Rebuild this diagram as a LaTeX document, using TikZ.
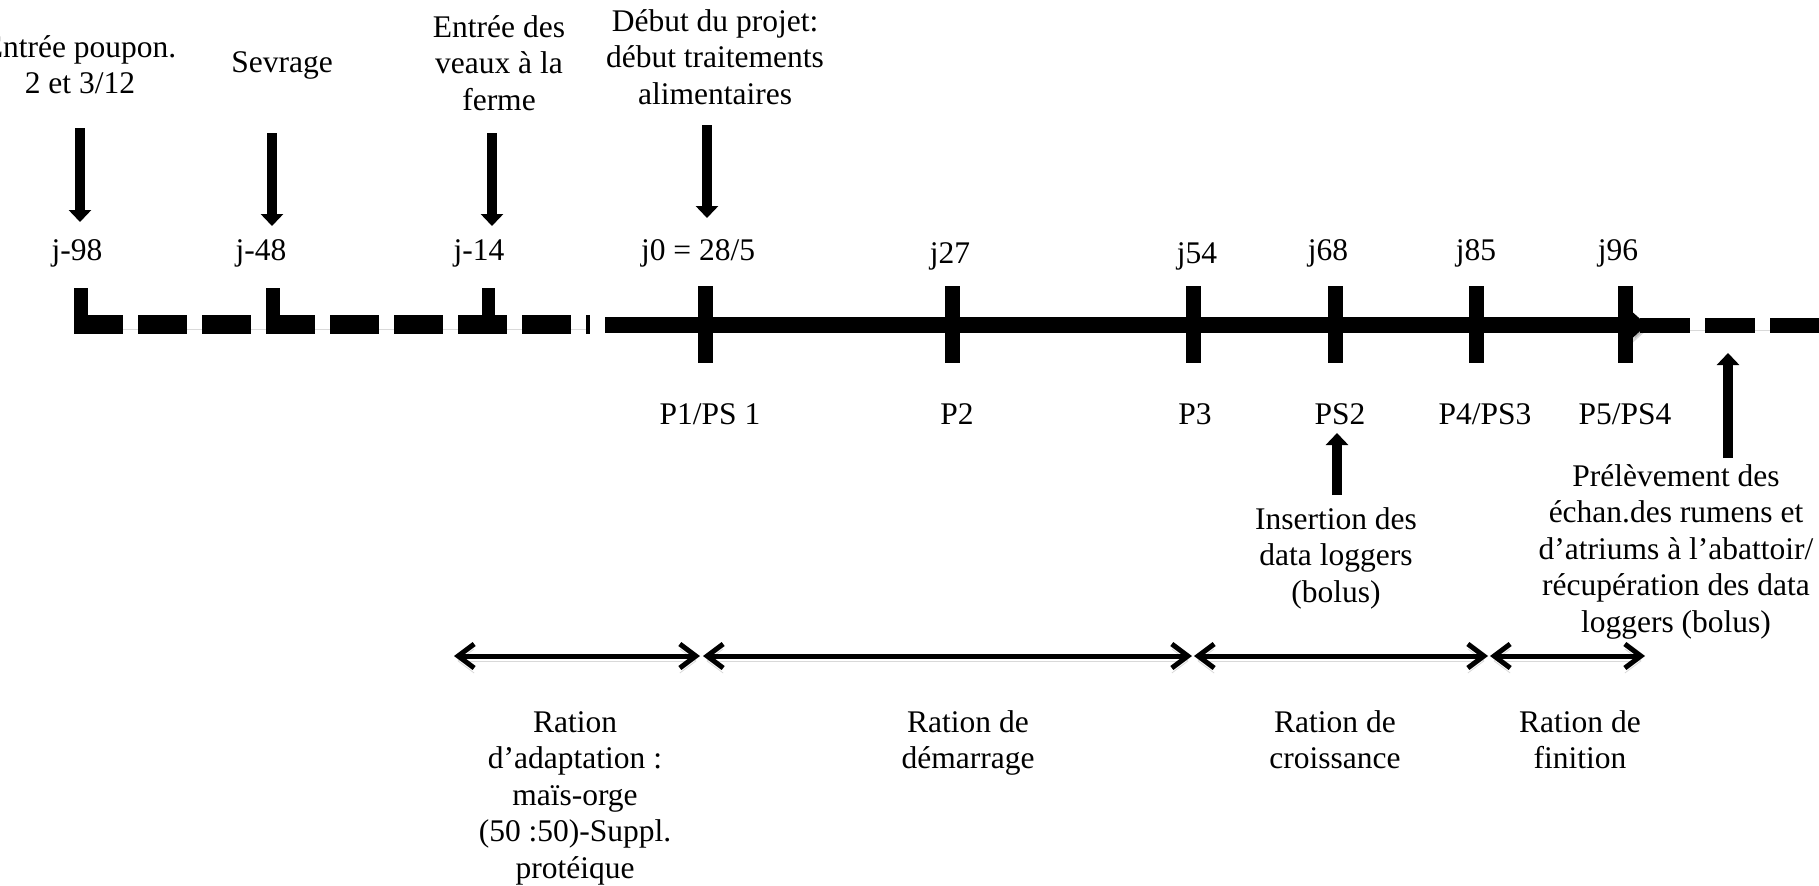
\documentclass[tikz,border=0pt]{standalone}
\usepackage{fontspec}
\setmainfont{Liberation Serif}
\usetikzlibrary{arrows.meta}
\begin{document}
\begin{tikzpicture}[x=0.5pt,y=-0.5pt,
  lbl/.style={inner sep=0pt, align=center, font=\fontsize{15.75pt}{18.25pt}\selectfont, anchor=base},
  evarrow/.style={line width=5pt, -{Triangle[length=6pt,width=11pt]}},
  axisline/.style={line width=8pt},
  dashax/.style={line width=9.5pt, dash pattern=on 24.5pt off 7.5pt},
  dashright/.style={line width=7.5pt, dash pattern=on 25pt off 7.5pt},
  spanarrow/.style={line width=2.5pt, {Straight Barb[length=8pt,width=12pt]}-{Straight Barb[length=8pt,width=12pt]}},
  shadowed/.style={preaction={draw, black, opacity=0.15, transform canvas={yshift=-2.5pt}}}
]
\useasboundingbox (0,0) rectangle (1819,885);
\clip (0,0) rectangle (1819,885);

% top labels (anchor base = last line baseline)
\node[lbl] (tpoupon) at (80,93.5) {Entrée poupon.\\2 et 3/12};
\node[lbl] (tsevrage) at (282,72) {Sevrage};
\node[lbl] (tentree) at (499,110) {Entrée des\\veaux à la\\ferme};
\node[lbl] (tdebut) at (715,104) {Début du projet:\\début traitements\\alimentaires};

% down arrows
\coordinate (a1s) at (80,128);  \coordinate (a1e) at (80,222);
\coordinate (a2s) at (272,133); \coordinate (a2e) at (272,226);
\coordinate (a3s) at (492,133); \coordinate (a3e) at (492,226);
\coordinate (a4s) at (707,125); \coordinate (a4e) at (707,218);
\draw[evarrow] (a1s) -- (a1e);
\draw[evarrow] (a2s) -- (a2e);
\draw[evarrow] (a3s) -- (a3e);
\draw[evarrow] (a4s) -- (a4e);

% day labels
\node[lbl] (j98) at (77,260) {j-98};
\node[lbl] (j48) at (261,260) {j-48};
\node[lbl] (j14) at (479,260) {j-14};
\node[lbl] (j0) at (698,260) {j0 = 28/5};
\node[lbl] (j27) at (950,263) {j27};
\node[lbl] (j54) at (1197,263) {j54};
\node[lbl] (j68) at (1328,260) {j68};
\node[lbl] (j85) at (1476,260) {j85};
\node[lbl] (j96) at (1618,260) {j96};

% timeline
\coordinate (dl0) at (74,324); \coordinate (dl1) at (590,324);
\draw[dashax, shadowed] (dl0) -- (dl1);
\fill (74,288) rectangle (88,333);
\fill (266,288) rectangle (280,333);
\fill (482,288) rectangle (495,333);

\coordinate (ax0) at (605,325); \coordinate (ax1) at (1647,325);
\coordinate (dr0) at (1640,325); \coordinate (dr1) at (1830,325);
\draw[dashright, shadowed] (dr0) -- (dr1);
\draw[axisline, shadowed, -{Triangle[length=7pt,width=12pt]}] (ax0) -- (ax1);
\foreach \x in {705,952,1193,1335,1476,1625}
  \fill (\x-7.5,286) rectangle (\x+7.5,363);

% period labels
\node[lbl] (p1) at (710,424) {P1/PS 1};
\node[lbl] (p2) at (957,424) {P2};
\node[lbl] (p3) at (1195,424) {P3};
\node[lbl] (ps2) at (1340,424) {PS2};
\node[lbl] (p4) at (1485,424) {P4/PS3};
\node[lbl] (p5) at (1625,424) {P5/PS4};

% up arrows
\coordinate (u1s) at (1337,495); \coordinate (u1e) at (1337,433);
\coordinate (u2s) at (1728,458); \coordinate (u2e) at (1728,353);
\draw[evarrow] (u1s) -- (u1e);
\draw[evarrow] (u2s) -- (u2e);

\node[lbl] (insertion) at (1336,602) {Insertion des\\data loggers\\(bolus)};
\node[lbl] (prelev) at (1676,632) {Prélèvement des\\échan.des rumens et\\d’atriums à l’abattoir/\\récupération des data\\loggers (bolus)};

% ration spans
\coordinate (s0) at (454,656);
\coordinate (s1a) at (700,656); \coordinate (s1b) at (703,656);
\coordinate (s2a) at (1192,656); \coordinate (s2b) at (1194,656);
\coordinate (s3a) at (1488,656); \coordinate (s3b) at (1490,656);
\coordinate (s4) at (1645,656);
\draw[spanarrow, shadowed] (s0) -- (s1a);
\draw[spanarrow, shadowed] (s1b) -- (s2a);
\draw[spanarrow, shadowed] (s2b) -- (s3a);
\draw[spanarrow, shadowed] (s3b) -- (s4);

\node[lbl] (radapt) at (575,878) {Ration\\d’adaptation :\\maïs-orge\\(50 :50)-Suppl.\\protéique};
\node[lbl] (rdemarr) at (968,768.5) {Ration de\\démarrage};
\node[lbl] (rcrois) at (1335,768.5) {Ration de\\croissance};
\node[lbl] (rfin) at (1580,768.5) {Ration de\\finition};
\end{tikzpicture}
\end{document}
